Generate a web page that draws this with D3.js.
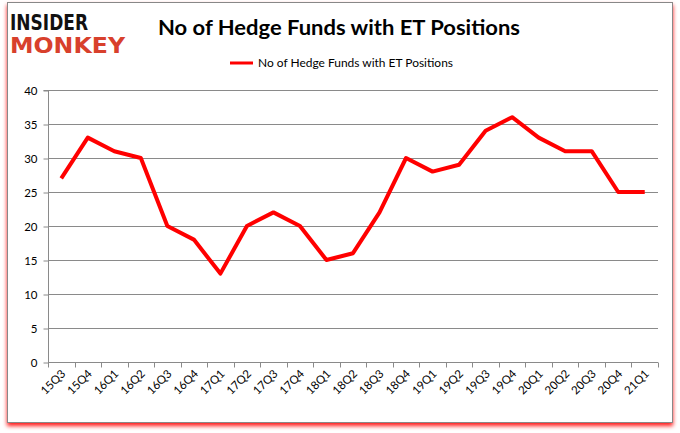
<!DOCTYPE html>
<html><head><meta charset="utf-8">
<script src="https://cdn.jsdelivr.net/npm/d3@7/dist/d3.min.js"></script>
<style>body{margin:0;background:#fff}svg{display:block}</style>
</head><body><svg id="c" width="680" height="433"></svg>
<script>
const categories = ["15Q3","15Q4","16Q1","16Q2","16Q3","16Q4","17Q1","17Q2","17Q3","17Q4","18Q1","18Q2","18Q3","18Q4","19Q1","19Q2","19Q3","19Q4","20Q1","20Q2","20Q3","20Q4","21Q1"];
const values = [27,33,31,30,20,18,13,20,22,20,15,16,22,30,28,29,34,36,33,31,31,25,25];
const yTicks = [0,5,10,15,20,25,30,35,40];
const seriesName = "No of Hedge Funds with ET Positions";
const titleText = "No of Hedge Funds with ET Positions";

const svg = d3.select("#c");
const defs = svg.append("defs");
const f = defs.append("filter").attr("id","sh").attr("x","-5%").attr("y","-5%").attr("width","110%").attr("height","112%");
f.append("feGaussianBlur").attr("in","SourceAlpha").attr("stdDeviation","2").attr("result","b");
f.append("feOffset").attr("in","b").attr("dx","0").attr("dy","3").attr("result","o");
f.append("feFlood").attr("flood-color","#ff0000").attr("flood-opacity","0.9");
f.append("feComposite").attr("in2","o").attr("operator","in").attr("result","r");
const m = f.append("feMerge"); m.append("feMergeNode").attr("in","r"); m.append("feMergeNode").attr("in","SourceGraphic");

svg.append("rect").attr("x",7.5).attr("y",2.5).attr("width",665).attr("height",420)
  .attr("fill","#fff").attr("stroke","#888").attr("stroke-width",1).attr("filter","url(#sh)");

// logo
svg.append("text").attr("x",10).attr("y",30).attr("font-family","DejaVu Sans").attr("font-weight","bold")
  .attr("font-size",22).attr("textLength",78).attr("lengthAdjust","spacingAndGlyphs").attr("fill","#111").text("INSIDER");
svg.append("text").attr("x",10).attr("y",53).attr("font-family","DejaVu Sans").attr("font-weight","bold")
  .attr("font-size",22).attr("textLength",115).attr("lengthAdjust","spacingAndGlyphs").attr("fill","#d8402c").text("MONKEY");

// title
svg.append("text").attr("x",339).attr("y",35).attr("text-anchor","middle").attr("font-family","Lato, 'Open Sans', sans-serif")
  .attr("font-weight","bold").attr("font-size",20).attr("textLength",362).attr("lengthAdjust","spacingAndGlyphs").attr("fill","#000").text(titleText);

// legend
svg.append("line").attr("x1",230).attr("x2",253).attr("y1",63).attr("y2",63).attr("stroke","#ff0000").attr("stroke-width",3);
svg.append("text").attr("x",258).attr("y",67).attr("font-family","Lato, 'Open Sans', sans-serif").attr("font-size",11.5)
  .attr("textLength",195).attr("lengthAdjust","spacingAndGlyphs").attr("fill","#000").text(seriesName);

const L=48,R=658,T=90,B=362;
const x = d3.scaleBand().domain(categories).range([L,R]);
const y = d3.scaleLinear().domain([0,40]).range([B,T]);

// gridlines
svg.append("g").selectAll("line").data(yTicks.filter(d=>d>0)).join("line")
  .attr("x1",L).attr("x2",R).attr("y1",d=>y(d)+0.5).attr("y2",d=>y(d)+0.5).attr("stroke","#8a8a8a").attr("stroke-width",1);

// y axis
const ya = svg.append("g").attr("transform",`translate(${L+0.5},0.5)`)
  .call(d3.axisLeft(y).tickValues(yTicks).tickSize(5).tickPadding(6));
ya.select(".domain").attr("stroke","#8a8a8a").attr("d",`M-5,${T}H0V${B}`);
ya.selectAll(".tick line").attr("stroke","#8a8a8a");
ya.selectAll("text").attr("font-family","Lato, 'Open Sans', sans-serif").attr("font-size",11.5).attr("fill","#000");

// x axis
const xa = svg.append("g").attr("transform",`translate(0,${B+0.5})`);
xa.append("line").attr("x1",L).attr("x2",R).attr("stroke","#8a8a8a");
const bounds = categories.map(c=>x(c)).concat([R]);
xa.selectAll(".tk").data(bounds).join("line").attr("class","tk")
  .attr("x1",d=>Math.round(d)+0.5).attr("x2",d=>Math.round(d)+0.5).attr("y1",0).attr("y2",5).attr("stroke","#8a8a8a");
xa.selectAll(".lb").data(categories).join("text").attr("class","lb")
  .attr("transform",d=>`translate(${x(d)+x.bandwidth()/2+5},${12}) rotate(-45)`)
  .attr("text-anchor","end").attr("font-family","Lato, 'Open Sans', sans-serif").attr("font-size",11.5).attr("fill","#000").text(d=>d);

// line
const line = d3.line().x((d,i)=>x(categories[i])+x.bandwidth()/2).y(d=>y(d));
svg.append("path").datum(values).attr("d",line).attr("fill","none").attr("stroke","#ff0000")
  .attr("stroke-width",4).attr("stroke-linejoin","round").attr("stroke-linecap","butt");
</script></body></html>
